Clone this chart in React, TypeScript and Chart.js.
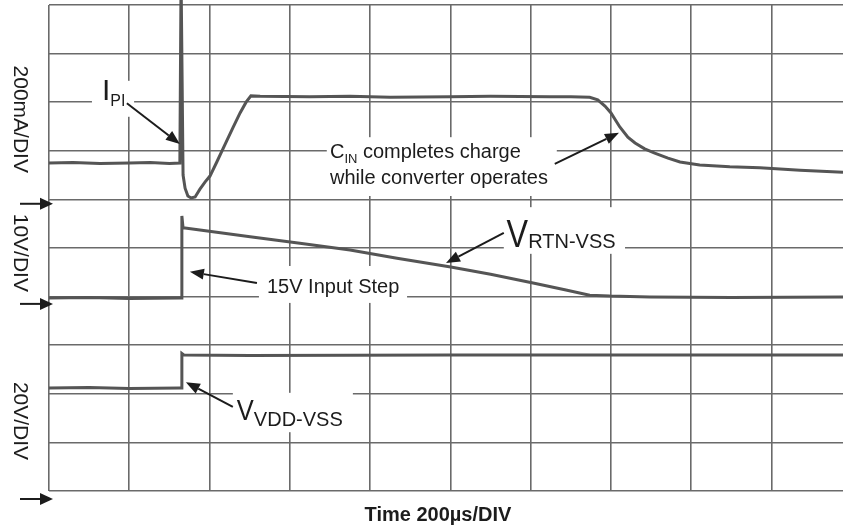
import React, { useEffect, useRef } from 'react';
import { Chart, registerables } from 'chart.js';

Chart.register(...registerables);

// ---- axis extents (time in µs, vertical in screen divisions) ----
const X_MIN_US = 0;
const X_MAX_US = 1978; // right side of the screen is cropped
const Y_MIN_DIV = 0;
const Y_MAX_DIV = 10;
// grid lines: 200 µs/DIV horizontally, 10 divisions vertically
const timeTicksUs = [0, 200, 400, 600, 800, 1000, 1200, 1400, 1600, 1800];
const divTicks = [0, 1, 2, 3, 4, 5, 6, 7, 8, 9, 10];

// ---- I_PI trace (200 mA/DIV) ----
const iTimeUs = [0, 60, 127, 200, 252, 300, 326, 329, 331, 334, 339, 346, 354, 364, 376, 389, 401, 418, 438, 458, 476, 491, 503, 526, 650, 750, 850, 1000, 1100, 1248, 1300, 1347, 1367, 1385, 1400, 1422, 1442, 1460, 1484, 1509, 1542, 1572, 1621, 1696, 1771, 1871, 1978];
const iDiv = [6.75, 6.76, 6.74, 6.75, 6.76, 6.74, 6.75, 10.6, 10.6, 6.5, 6.23, 6.07, 6.03, 6.05, 6.21, 6.36, 6.48, 6.77, 7.12, 7.47, 7.78, 8.0, 8.13, 8.12, 8.11, 8.12, 8.1, 8.11, 8.12, 8.11, 8.11, 8.1, 8.05, 7.92, 7.78, 7.49, 7.28, 7.16, 7.04, 6.95, 6.85, 6.77, 6.71, 6.67, 6.65, 6.6, 6.56];

// ---- V_RTN-VSS trace (10 V/DIV) ----
const rtnTimeUs = [0, 100, 200, 326, 329, 331, 334, 339, 376, 501, 625, 750, 867, 1001, 1100, 1206, 1285, 1347, 1397, 1497, 1700, 1978];
const rtnDiv = [3.97, 3.98, 3.96, 3.97, 3.97, 5.66, 5.41, 5.41, 5.37, 5.23, 5.1, 4.96, 4.79, 4.61, 4.46, 4.28, 4.14, 4.03, 4.01, 3.99, 3.98, 3.99];

// ---- V_VDD-VSS trace (20 V/DIV) ----
const vddTimeUs = [0, 100, 200, 326, 330, 331, 336, 500, 1000, 1500, 1978];
const vddDiv = [2.12, 2.13, 2.11, 2.12, 2.12, 2.83, 2.8, 2.79, 2.8, 2.8, 2.8];

// ---- channel ground markers (left arrows), in divisions ----
const markerDiv = [5.91, 3.85, -0.165];

// ---- text ----
const scaleLabels = ['200mA/DIV', '10V/DIV', '20V/DIV'];
const scaleLabelDiv = [7.65, 4.9, 1.44];
const xTitle = 'Time 200µs/DIV';

const FONT = '"Liberation Sans", Arial, Helvetica, sans-serif';
const INK = '#1c1c1c';
const TRACE = '#555555';
const GRID = '#6a6a6a';

// white boxes behind callouts (data coords)
const MASKS = [
  { x1: 107, x2: 212, y1: 8.44, y2: 7.7 },
  { x1: 692, x2: 1265, y1: 7.28, y2: 6.07 },
  { x1: 1133, x2: 1435, y1: 5.84, y2: 4.88 },
  { x1: 523, x2: 892, y1: 4.63, y2: 3.87 },
  { x1: 458, x2: 757, y1: 2.02, y2: 1.21 },
];

// callout arrows (data coords, tip at the second point)
const ARROWS = [
  { x1: 194, y1: 7.98, x2: 326, y2: 7.14 },
  { x1: 1260, y1: 6.73, x2: 1420, y2: 7.37 },
  { x1: 1133, y1: 5.31, x2: 989, y2: 4.69 },
  { x1: 518, y1: 4.28, x2: 351, y2: 4.51 },
  { x1: 458, y1: 1.73, x2: 341, y2: 2.24 },
];

type Callout = { x: number; y: number; main: string; mainSize: number; sub?: string; subSize?: number; subDy?: number; rest?: string; mainScaleX?: number };
const CALLOUTS: Callout[] = [
  { x: 132, y: 8.045, main: 'I', mainSize: 30, sub: 'PI', subSize: 16, subDy: 6 },
  { x: 700, y: 6.85, main: 'C', mainSize: 20, sub: 'IN', subSize: 13, subDy: 5, rest: ' completes charge' },
  { x: 700, y: 6.32, main: 'while converter operates', mainSize: 20 },
  { x: 1140, y: 5.02, main: 'V', mainSize: 38, sub: 'RTN-VSS', subSize: 20, subDy: 1, mainScaleX: 0.85 },
  { x: 543, y: 4.07, main: '15V Input Step', mainSize: 20 },
  { x: 468, y: 1.46, main: 'V', mainSize: 30, sub: 'VDD-VSS', subSize: 20, subDy: 6, mainScaleX: 0.85 },
];

function drawArrow(ctx: CanvasRenderingContext2D, x1: number, y1: number, x2: number, y2: number, head = 14, half = 5.5) {
  const a = Math.atan2(y2 - y1, x2 - x1);
  const bx = x2 - head * Math.cos(a);
  const by = y2 - head * Math.sin(a);
  ctx.beginPath();
  ctx.moveTo(x1, y1);
  ctx.lineTo(bx, by);
  ctx.stroke();
  ctx.beginPath();
  ctx.moveTo(x2, y2);
  ctx.lineTo(bx + half * Math.sin(a), by - half * Math.cos(a));
  ctx.lineTo(bx - half * Math.sin(a), by + half * Math.cos(a));
  ctx.closePath();
  ctx.fill();
}

const scopePlugin = {
  id: 'scopeAnnotations',
  beforeDatasetsDraw(chart: any) {
    const { ctx, scales } = chart;
    const sx = scales.x, sy = scales.y;
    ctx.save();
    ctx.fillStyle = '#ffffff';
    for (const m of MASKS) {
      const a = sx.getPixelForValue(m.x1), b = sx.getPixelForValue(m.x2);
      const c = sy.getPixelForValue(m.y1), d = sy.getPixelForValue(m.y2);
      ctx.fillRect(Math.min(a, b), Math.min(c, d), Math.abs(b - a), Math.abs(d - c));
    }
    ctx.restore();
  },
  afterDraw(chart: any) {
    const { ctx, scales, chartArea } = chart;
    const sx = scales.x, sy = scales.y;
    ctx.save();
    ctx.fillStyle = INK;
    ctx.strokeStyle = INK;
    ctx.lineWidth = 2;
    for (const ar of ARROWS) {
      drawArrow(ctx, sx.getPixelForValue(ar.x1), sy.getPixelForValue(ar.y1), sx.getPixelForValue(ar.x2), sy.getPixelForValue(ar.y2));
    }
    for (const m of markerDiv) {
      const py = sy.getPixelForValue(m);
      drawArrow(ctx, chartArea.left - 29, py, chartArea.left + 4, py, 13, 6);
    }
    ctx.textBaseline = 'alphabetic';
    ctx.textAlign = 'left';
    for (const c of CALLOUTS) {
      let px = sx.getPixelForValue(c.x);
      const py = sy.getPixelForValue(c.y);
      ctx.font = `${c.mainSize}px ${FONT}`;
      const k = c.mainScaleX || 1;
      ctx.save();
      ctx.translate(px, py);
      ctx.scale(k, 1);
      ctx.fillText(c.main, 0, 0);
      ctx.restore();
      px += ctx.measureText(c.main).width * k;
      if (c.sub) {
        ctx.font = `${c.subSize}px ${FONT}`;
        ctx.fillText(c.sub, px, py + (c.subDy || 0));
        px += ctx.measureText(c.sub).width;
      }
      if (c.rest) {
        ctx.font = `${c.mainSize}px ${FONT}`;
        ctx.fillText(c.rest, px, py);
      }
    }
    ctx.font = `21px ${FONT}`;
    ctx.textAlign = 'center';
    ctx.textBaseline = 'middle';
    scaleLabels.forEach((t, i) => {
      ctx.save();
      ctx.translate(chartArea.left - 29, sy.getPixelForValue(scaleLabelDiv[i]));
      ctx.rotate(Math.PI / 2);
      ctx.fillText(t, 0, 0);
      ctx.restore();
    });
    ctx.font = `bold 20px ${FONT}`;
    ctx.textAlign = 'center';
    ctx.textBaseline = 'alphabetic';
    ctx.fillText(xTitle, sx.getPixelForValue(969), sy.getPixelForValue(-0.62));
    ctx.restore();
  },
};

function series(t: number[], v: number[]) {
  return t.map((x, i) => ({ x, y: v[i] }));
}

export default function App() {
  const ref = useRef<HTMLCanvasElement | null>(null);
  useEffect(() => {
    if (!ref.current) return;
    const lineStyle = { borderColor: TRACE, borderWidth: 3, pointRadius: 0, tension: 0, fill: false };
    const chart = new Chart(ref.current, {
      type: 'line',
      data: {
        datasets: [
          { label: 'I_PI', data: series(iTimeUs, iDiv), ...lineStyle, clip: false as any },
          { label: 'V_RTN-VSS', data: series(rtnTimeUs, rtnDiv), ...lineStyle },
          { label: 'V_VDD-VSS', data: series(vddTimeUs, vddDiv), ...lineStyle },
        ],
      },
      options: {
        animation: false,
        responsive: false,
        devicePixelRatio: 1,
        events: [],
        layout: { autoPadding: false, padding: { left: 49, top: 5, right: 0, bottom: 36 } },
        plugins: { legend: { display: false }, tooltip: { enabled: false }, title: { display: false } },
        scales: {
          x: {
            type: 'linear',
            bounds: 'data',
            min: X_MIN_US,
            max: X_MAX_US,
            ticks: { display: false },
            afterBuildTicks: (s: any) => { s.ticks = timeTicksUs.map((value) => ({ value })); },
            grid: { color: GRID, lineWidth: 1.6, drawTicks: false },
            border: { display: false },
            afterFit: (s: any) => { s.height = 0; },
          },
          y: {
            type: 'linear',
            bounds: 'data',
            min: Y_MIN_DIV,
            max: Y_MAX_DIV,
            ticks: { display: false },
            afterBuildTicks: (s: any) => { s.ticks = divTicks.map((value) => ({ value })); },
            grid: { color: GRID, lineWidth: 1.6, drawTicks: false },
            border: { display: false },
            afterFit: (s: any) => { s.width = 0; },
          },
        },
      } as any,
      plugins: [scopePlugin],
    });
    return () => chart.destroy();
  }, []);
  return (
    <div style={{ position: 'absolute', left: 0, top: 0, width: 843, height: 527, background: '#fff' }}>
      <canvas ref={ref} width={843} height={527} style={{ width: 843, height: 527, display: 'block' }} />
    </div>
  );
}
